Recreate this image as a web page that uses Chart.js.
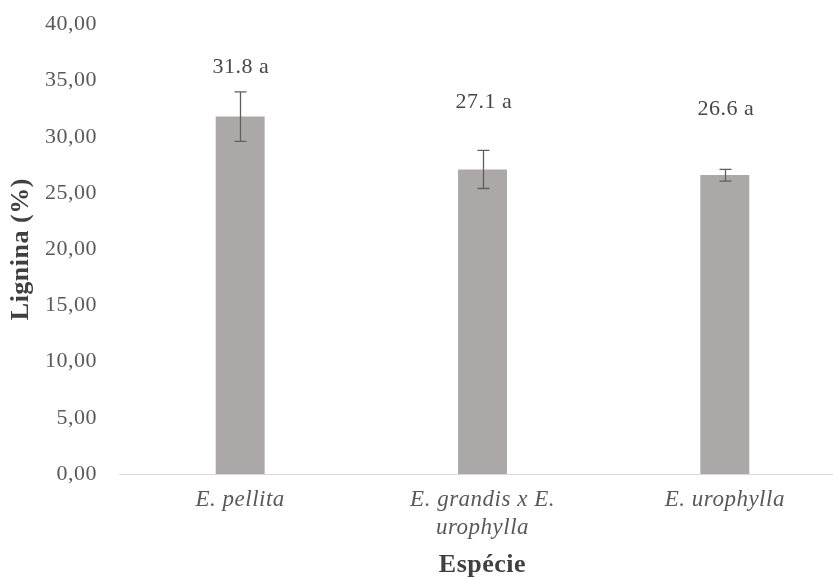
<!DOCTYPE html>
<html><head><meta charset="utf-8">
<script src="https://cdn.jsdelivr.net/npm/chart.js@4/dist/chart.umd.min.js"></script>
<style>
html,body{margin:0;padding:0;background:#fff;overflow:hidden;width:833px;height:579px}
#wrap{position:absolute;left:0;top:0;width:857px;height:579px}
</style></head><body>
<div id="wrap"><canvas id="c"></canvas></div>
<script>
const categories = [['E. pellita'], ['E. grandis x E.', 'urophylla'], ['E. urophylla']];
const means = [31.8, 27.1, 26.6];
const errLow = [29.6, 25.4, 26.05];
const errHigh = [34.0, 28.8, 27.1];
const pointLabels = ['31.8 a', '27.1 a', '26.6 a'];
const labelOffsets = [25, 48, 60];

const FONT = '"Liberation Serif"';
const GREY = '#595959';
const LS = '0.5px';

const spacing = {
  id: 'spacing',
  beforeUpdate(chart) { chart.ctx.letterSpacing = LS; },
  beforeDraw(chart) { chart.ctx.letterSpacing = LS; }
};

const errorBars = {
  id: 'errorBars',
  afterDatasetsDraw(chart) {
    const ctx = chart.ctx, y = chart.scales.y;
    const meta = chart.getDatasetMeta(0);
    ctx.save();
    ctx.strokeStyle = '#5f5f5f';
    ctx.lineWidth = 1.3;
    meta.data.forEach((bar, i) => {
      const x = Math.round(bar.x) + 0.5, yl = y.getPixelForValue(errLow[i]), yh = y.getPixelForValue(errHigh[i]);
      const cw = 6;
      ctx.beginPath();
      ctx.moveTo(x, yl); ctx.lineTo(x, yh);
      ctx.moveTo(x - cw, yl); ctx.lineTo(x + cw, yl);
      ctx.moveTo(x - cw, yh); ctx.lineTo(x + cw, yh);
      ctx.stroke();
      ctx.fillStyle = '#474747';
      ctx.font = '22px ' + FONT;
      ctx.letterSpacing = LS;
      ctx.textAlign = 'center';
      ctx.textBaseline = 'middle';
      ctx.fillText(pointLabels[i], x + 0.5, yh - labelOffsets[i]);
    });
    ctx.restore();
  }
};

function build() {
new Chart(document.getElementById('c'), {
  type: 'bar',
  data: {
    labels: categories,
    datasets: [{ data: means, backgroundColor: '#aca8a7', barPercentage: 0.202, categoryPercentage: 1 }]
  },
  options: {
    responsive: true,
    maintainAspectRatio: false,
    devicePixelRatio: 1,
    animation: false,
    layout: { padding: { top: 24.4, right: 11, left: 0, bottom: 0 } },
    plugins: { legend: { display: false }, tooltip: { enabled: false } },
    scales: {
      x: {
        grid: { display: false, drawTicks: false },
        border: { display: true, color: '#d9d9d9', width: 1 },
        ticks: { color: GREY, font: { family: FONT, size: 23, style: 'italic', lineHeight: 1.22 }, padding: 12, maxRotation: 0, autoSkip: false },
        title: { display: true, text: 'Espécie', color: '#404040', font: { family: FONT, size: 26, weight: 'bold', lineHeight: 1.05 }, padding: { top: 0, bottom: 0 } },
        afterFit(s) { s.height = 105; s.paddingLeft = 0; s.paddingRight = 0; }
      },
      y: {
        min: 0, max: 40,
        grid: { display: false, drawTicks: false },
        border: { display: false },
        ticks: { stepSize: 5, color: GREY, padding: 22, font: { family: FONT, size: 22 },
          callback: v => v.toFixed(2).replace('.', ',') },
        title: { display: true, text: 'Lignina (%)', color: '#404040', font: { family: FONT, size: 26, weight: 'bold' }, padding: { top: 6, bottom: 0 } },
        afterFit(s) { s.width = 119; s.paddingTop = 0; s.paddingBottom = 0; }
      }
    }
  },
  plugins: [spacing, errorBars]
});
}
Promise.all([
  document.fonts.load('22px "Liberation Serif"'),
  document.fonts.load('italic 23px "Liberation Serif"'),
  document.fonts.load('bold 26px "Liberation Serif"')
]).then(build, build);
</script>
</body></html>
